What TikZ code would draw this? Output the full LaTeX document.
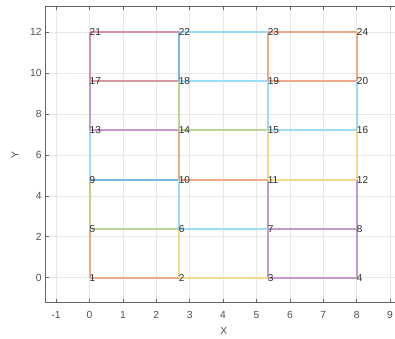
\documentclass[tikz,border=0pt]{standalone}
\usepackage{fontspec}
\setmainfont{Liberation Sans}
\definecolor{mblue}{RGB}{0,114,189}
\definecolor{morange}{RGB}{217,83,25}
\definecolor{myellow}{RGB}{237,177,32}
\definecolor{mpurple}{RGB}{126,47,142}
\definecolor{mgreen}{RGB}{119,172,48}
\definecolor{mlblue}{RGB}{77,190,238}
\definecolor{mdred}{RGB}{162,20,47}
\definecolor{axcol}{RGB}{100,100,100}
\definecolor{gridcol}{RGB}{230,230,230}
\definecolor{ticklab}{RGB}{80,80,80}
\definecolor{nodelab}{RGB}{45,45,45}
\tikzset{
  edgeline/.style={line width=1.7pt},
  eB/.style={edgeline, draw=mblue!52!white},
  eO/.style={edgeline, draw=morange!50!white},
  eY/.style={edgeline, draw=myellow!50!white},
  eP/.style={edgeline, draw=mpurple!48!white},
  eG/.style={edgeline, draw=mgreen!50!white},
  eL/.style={edgeline, draw=mlblue!55!white},
  eR/.style={edgeline, draw=mdred!45!white},
  nlab/.style={anchor=west, inner sep=0pt, text=nodelab, font=\fontsize{8.6}{10}\selectfont},
  tlab/.style={inner sep=0pt, text=ticklab, font=\fontsize{8.8}{10}\selectfont},
  gridline/.style={draw=gridcol, line width=0.6pt},
  axline/.style={draw=axcol, line width=0.8pt},
}
\begin{document}
\begin{tikzpicture}[x=1.002cm, y=0.6135cm]
\useasboundingbox (-2.680,-2.949) rectangle (9.147,13.580);
\fill[white] (-2.680,-2.949) rectangle (9.147,13.580);
% grid
\foreach \gx in {-1,0,...,9} \draw[gridline] (\gx,-1.19) -- (\gx,13.24);
\foreach \gy in {0,2,...,12} \draw[gridline] (-1.32,\gy) -- (9.147,\gy);
% axes box (right side cropped)
\draw[axline] (9.147,-1.19) -- (-1.32,-1.19) -- (-1.32,13.24) -- (9.147,13.24);
% ticks
\foreach \gx in {-1,0,...,9} {
  \draw[axline, line width=0.6pt] (\gx,-1.19) -- (\gx,-1.02);
  \draw[axline, line width=0.6pt] (\gx,13.24) -- (\gx,13.07);
  \node[tlab] (xt\gx) at (\gx,-1.81) {\gx};
}
\foreach \gy in {0,2,...,12} {
  \draw[axline, line width=0.6pt] (-1.32,\gy) -- (-1.215,\gy);
  \node[tlab, anchor=east] (yt\gy) at (-1.43,\gy) {\gy};
}
\node[tlab] (xlabel) at (4.02,-2.60) {X};
\node[tlab, rotate=90] (ylabel) at (-2.23,6.0) {Y};
% mesh points
\foreach \r in {0,...,5} {
  \foreach \c in {0,...,3} {
    \pgfmathtruncatemacro{\n}{\r*4+\c+1}
    \coordinate (n\n) at ({\c*8/3},{\r*2.4});
  }
}
% edges
\draw[eO] (n1) -- (n2);
\draw[eO] (n1) -- (n5);
\draw[eY] (n2) -- (n3);
\draw[eY] (n2) -- (n6);
\draw[eG] (n5) -- (n6);
\draw[eP] (n3) -- (n4);
\draw[eP] (n3) -- (n7);
\draw[eL] (n6) -- (n7);
\draw[eP] (n4) -- (n8);
\draw[eP] (n7) -- (n8);
\draw[eG] (n5) -- (n9);
\draw[eB] (n9) -- (n10);
\draw[eL] (n6) -- (n10);
\draw[eP] (n7) -- (n11);
\draw[eO] (n10) -- (n11);
\draw[eY] (n11) -- (n12);
\draw[eP] (n8) -- (n12);
\draw[eL] (n9) -- (n13);
\draw[eP] (n13) -- (n14);
\draw[eO] (n10) -- (n14);
\draw[eG] (n14) -- (n15);
\draw[eY] (n11) -- (n15);
\draw[eL] (n15) -- (n16);
\draw[eY] (n12) -- (n16);
\draw[eP] (n13) -- (n17);
\draw[eR] (n17) -- (n18);
\draw[eG] (n14) -- (n18);
\draw[eL] (n18) -- (n19);
\draw[eL] (n15) -- (n19);
\draw[eO] (n19) -- (n20);
\draw[eL] (n16) -- (n20);
\draw[eR] (n17) -- (n21);
\draw[eR] (n21) -- (n22);
\draw[eB] (n18) -- (n22);
\draw[eL] (n22) -- (n23);
\draw[eO] (n19) -- (n23);
\draw[eO] (n23) -- (n24);
\draw[eO] (n20) -- (n24);
% labels
\foreach \n in {1,...,24} \node[nlab] (l\n) at (n\n) {\n};
\end{tikzpicture}
\end{document}
